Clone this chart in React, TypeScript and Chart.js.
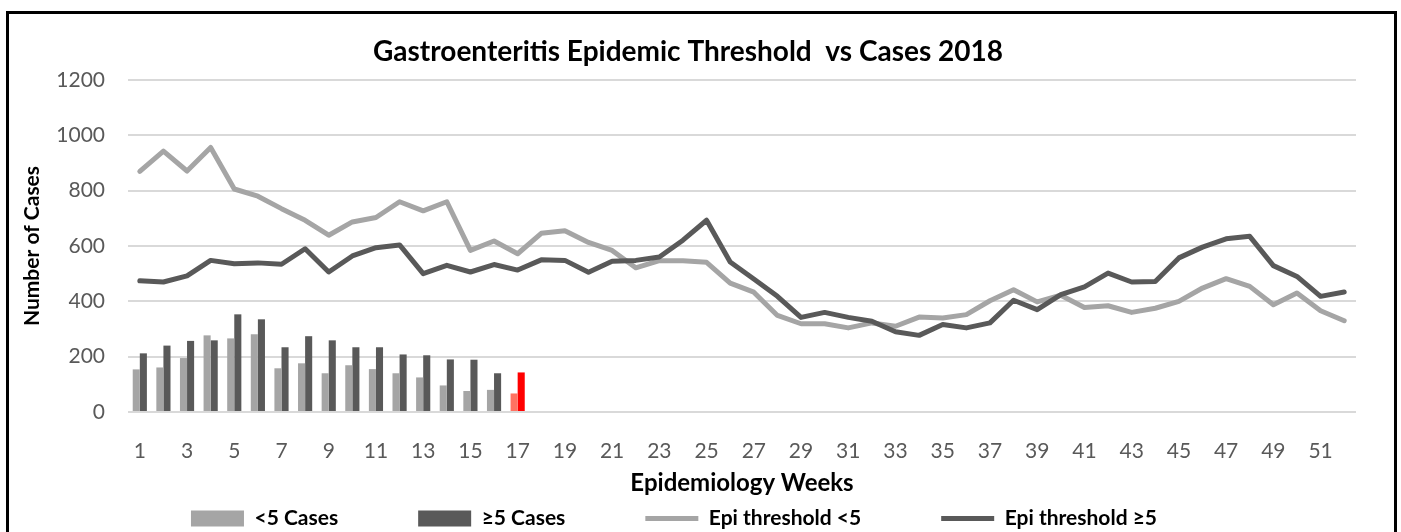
import { useEffect, useRef } from "react";
import { Chart, registerables } from "chart.js";

Chart.register(...registerables);

const TITLE = "Gastroenteritis Epidemic Threshold  vs Cases 2018";
const X_TITLE = "Epidemiology Weeks";
const Y_TITLE = "Number of Cases";

const weeks = [
  "1", "2", "3", "4", "5", "6", "7", "8", "9", "10", "11", "12", "13",
  "14", "15", "16", "17", "18", "19", "20", "21", "22", "23", "24", "25", "26",
  "27", "28", "29", "30", "31", "32", "33", "34", "35", "36", "37", "38", "39",
  "40", "41", "42", "43", "44", "45", "46", "47", "48", "49", "50", "51", "52",
];

const casesUnder5 = [154, 161, 195, 277, 266, 281, 158, 176, 140, 169, 155, 140, 125, 96, 76, 80, 67];
const casesOver5 = [212, 240, 257, 259, 353, 335, 234, 274, 259, 234, 234, 208, 205, 190, 189, 140, 143];

const thresholdUnder5 = [
  870, 943, 871, 956, 806, 780, 735, 693, 639, 687, 703, 760, 727,
  760, 584, 618, 572, 646, 655, 613, 584, 521, 547, 547, 541, 466,
  433, 349, 319, 319, 304, 322, 310, 343, 340, 352, 402, 442, 398,
  422, 378, 384, 360, 375, 400, 448, 482, 454, 388, 430, 366, 330,
];

const thresholdOver5 = [
  474, 470, 492, 548, 536, 539, 534, 590, 506, 564, 594, 604, 500,
  530, 506, 533, 513, 550, 548, 505, 545, 548, 560, 621, 693, 542,
  481, 418, 342, 360, 342, 328, 290, 277, 316, 304, 322, 404, 370,
  424, 452, 502, 470, 472, 557, 596, 626, 635, 529, 490, 418, 434,
];

const yTicks = [0, 200, 400, 600, 800, 1000, 1200];

const LIGHT = "#A5A5A5";
const DARK = "#595959";
const LIGHT_CURRENT = "#FF7261";
const DARK_CURRENT = "#FF0000";
const CURRENT_WEEK_INDEX = 16;

const FONT = "Lato, 'Open Sans', sans-serif";

export default function App() {
  const canvasRef = useRef<HTMLCanvasElement | null>(null);

  useEffect(() => {
    const canvas = canvasRef.current;
    if (!canvas) return;

    const lightColors = casesUnder5.map((_, i) => (i === CURRENT_WEEK_INDEX ? LIGHT_CURRENT : LIGHT));
    const darkColors = casesOver5.map((_, i) => (i === CURRENT_WEEK_INDEX ? DARK_CURRENT : DARK));

    const legendShift = {
      id: "legendShift",
      afterLayout(chart: any) {
        const lg = chart.legend;
        if (!lg) return;
        const pad = lg.options.labels.padding;
        lg.top = 508 - pad;
        lg.bottom = 540;
        lg.left = lg.left - 14;
        lg.right = lg.right - 14;
      },
    };

    const chart = new Chart(canvas, {
      type: "bar",
      data: {
        labels: weeks,
        datasets: [
          {
            type: "bar",
            label: "<5 Cases",
            data: casesUnder5,
            backgroundColor: lightColors,
            borderWidth: 0,
            barPercentage: 1,
            categoryPercentage: 0.6,
            pointStyle: "rect",
            order: 2,
          },
          {
            type: "bar",
            label: "≥5 Cases",
            data: casesOver5,
            backgroundColor: darkColors,
            borderWidth: 0,
            barPercentage: 1,
            categoryPercentage: 0.6,
            pointStyle: "rect",
            order: 2,
          },
          {
            type: "line",
            label: "Epi threshold <5",
            data: thresholdUnder5,
            borderColor: LIGHT,
            backgroundColor: LIGHT,
            borderWidth: 5,
            pointRadius: 0,
            tension: 0,
            borderCapStyle: "round",
            borderJoinStyle: "round",
            pointStyle: "line",
            order: 1,
          },
          {
            type: "line",
            label: "Epi threshold ≥5",
            data: thresholdOver5,
            borderColor: DARK,
            backgroundColor: DARK,
            borderWidth: 5,
            pointRadius: 0,
            tension: 0,
            borderCapStyle: "round",
            borderJoinStyle: "round",
            pointStyle: "line",
            order: 0,
          },
        ] as any,
      },
      options: {
        responsive: false,
        animation: false,
        events: [],
        layout: { padding: { left: 20, right: 45, top: 0, bottom: 0 } },
        plugins: {
          title: {
            display: true,
            text: TITLE,
            color: "#000000",
            font: { family: FONT, size: 28, weight: "bold", lineHeight: 1.2 },
            padding: { top: 35.5, bottom: 10.9 },
          },
          legend: {
            position: "bottom",
            maxHeight: 34,
            labels: {
              usePointStyle: true,
              pointStyleWidth: 53,
              boxHeight: 16,
              padding: 80,
              color: "#000000",
              font: { family: FONT, size: 21, weight: "bold" },
              sort: (a: any, b: any) => a.datasetIndex - b.datasetIndex,
            },
          } as any,
          tooltip: { enabled: false },
        },
        scales: {
          x: {
            grid: { display: false },
            border: { display: false },
            ticks: {
              autoSkip: false,
              maxRotation: 0,
              minRotation: 0,
              color: DARK,
              font: { family: FONT, size: 21 },
              padding: 19,
              callback: (_v: any, i: number) => (i % 2 === 0 ? weeks[i] : ""),
            },
            title: {
              display: true,
              text: X_TITLE,
              color: "#000000",
              font: { family: FONT, size: 24, weight: "bold", lineHeight: 1.2 },
              padding: 0,
            },
            afterFit: (s: any) => {
              s.height = 86;
            },
          },
          y: {
            min: 0,
            max: 1200,
            afterBuildTicks: (s: any) => {
              s.ticks = yTicks.map((v) => ({ value: v }));
            },
            ticks: {
              color: DARK,
              font: { family: FONT, size: 21 },
              padding: 23,
              callback: (v: any) => String(v),
            },
            grid: { color: "#D9D9D9", lineWidth: 2, drawTicks: false },
            border: { display: false },
            title: {
              display: true,
              text: Y_TITLE,
              color: "#000000",
              font: { family: FONT, size: 21, weight: "bold", lineHeight: 1.2 },
              padding: 0,
            },
            afterFit: (s: any) => {
              s.width = 108;
            },
          },
        },
      } as any,
      plugins: [legendShift],
    });

    return () => {
      chart.destroy();
    };
  }, []);

  return (
    <div
      style={{
        position: "fixed",
        left: 0,
        top: 0,
        width: 1401,
        height: 532,
        overflow: "hidden",
        background: "#ffffff",
      }}
    >
      <canvas
        ref={canvasRef}
        width={1401}
        height={532}
        style={{ position: "absolute", left: 0, top: 0, width: 1401, height: 532 }}
      />
      <div
        style={{
          position: "absolute",
          left: 6,
          top: 11,
          width: 1391,
          height: 530,
          border: "3px solid #000000",
          boxSizing: "border-box",
          pointerEvents: "none",
        }}
      />
    </div>
  );
}
